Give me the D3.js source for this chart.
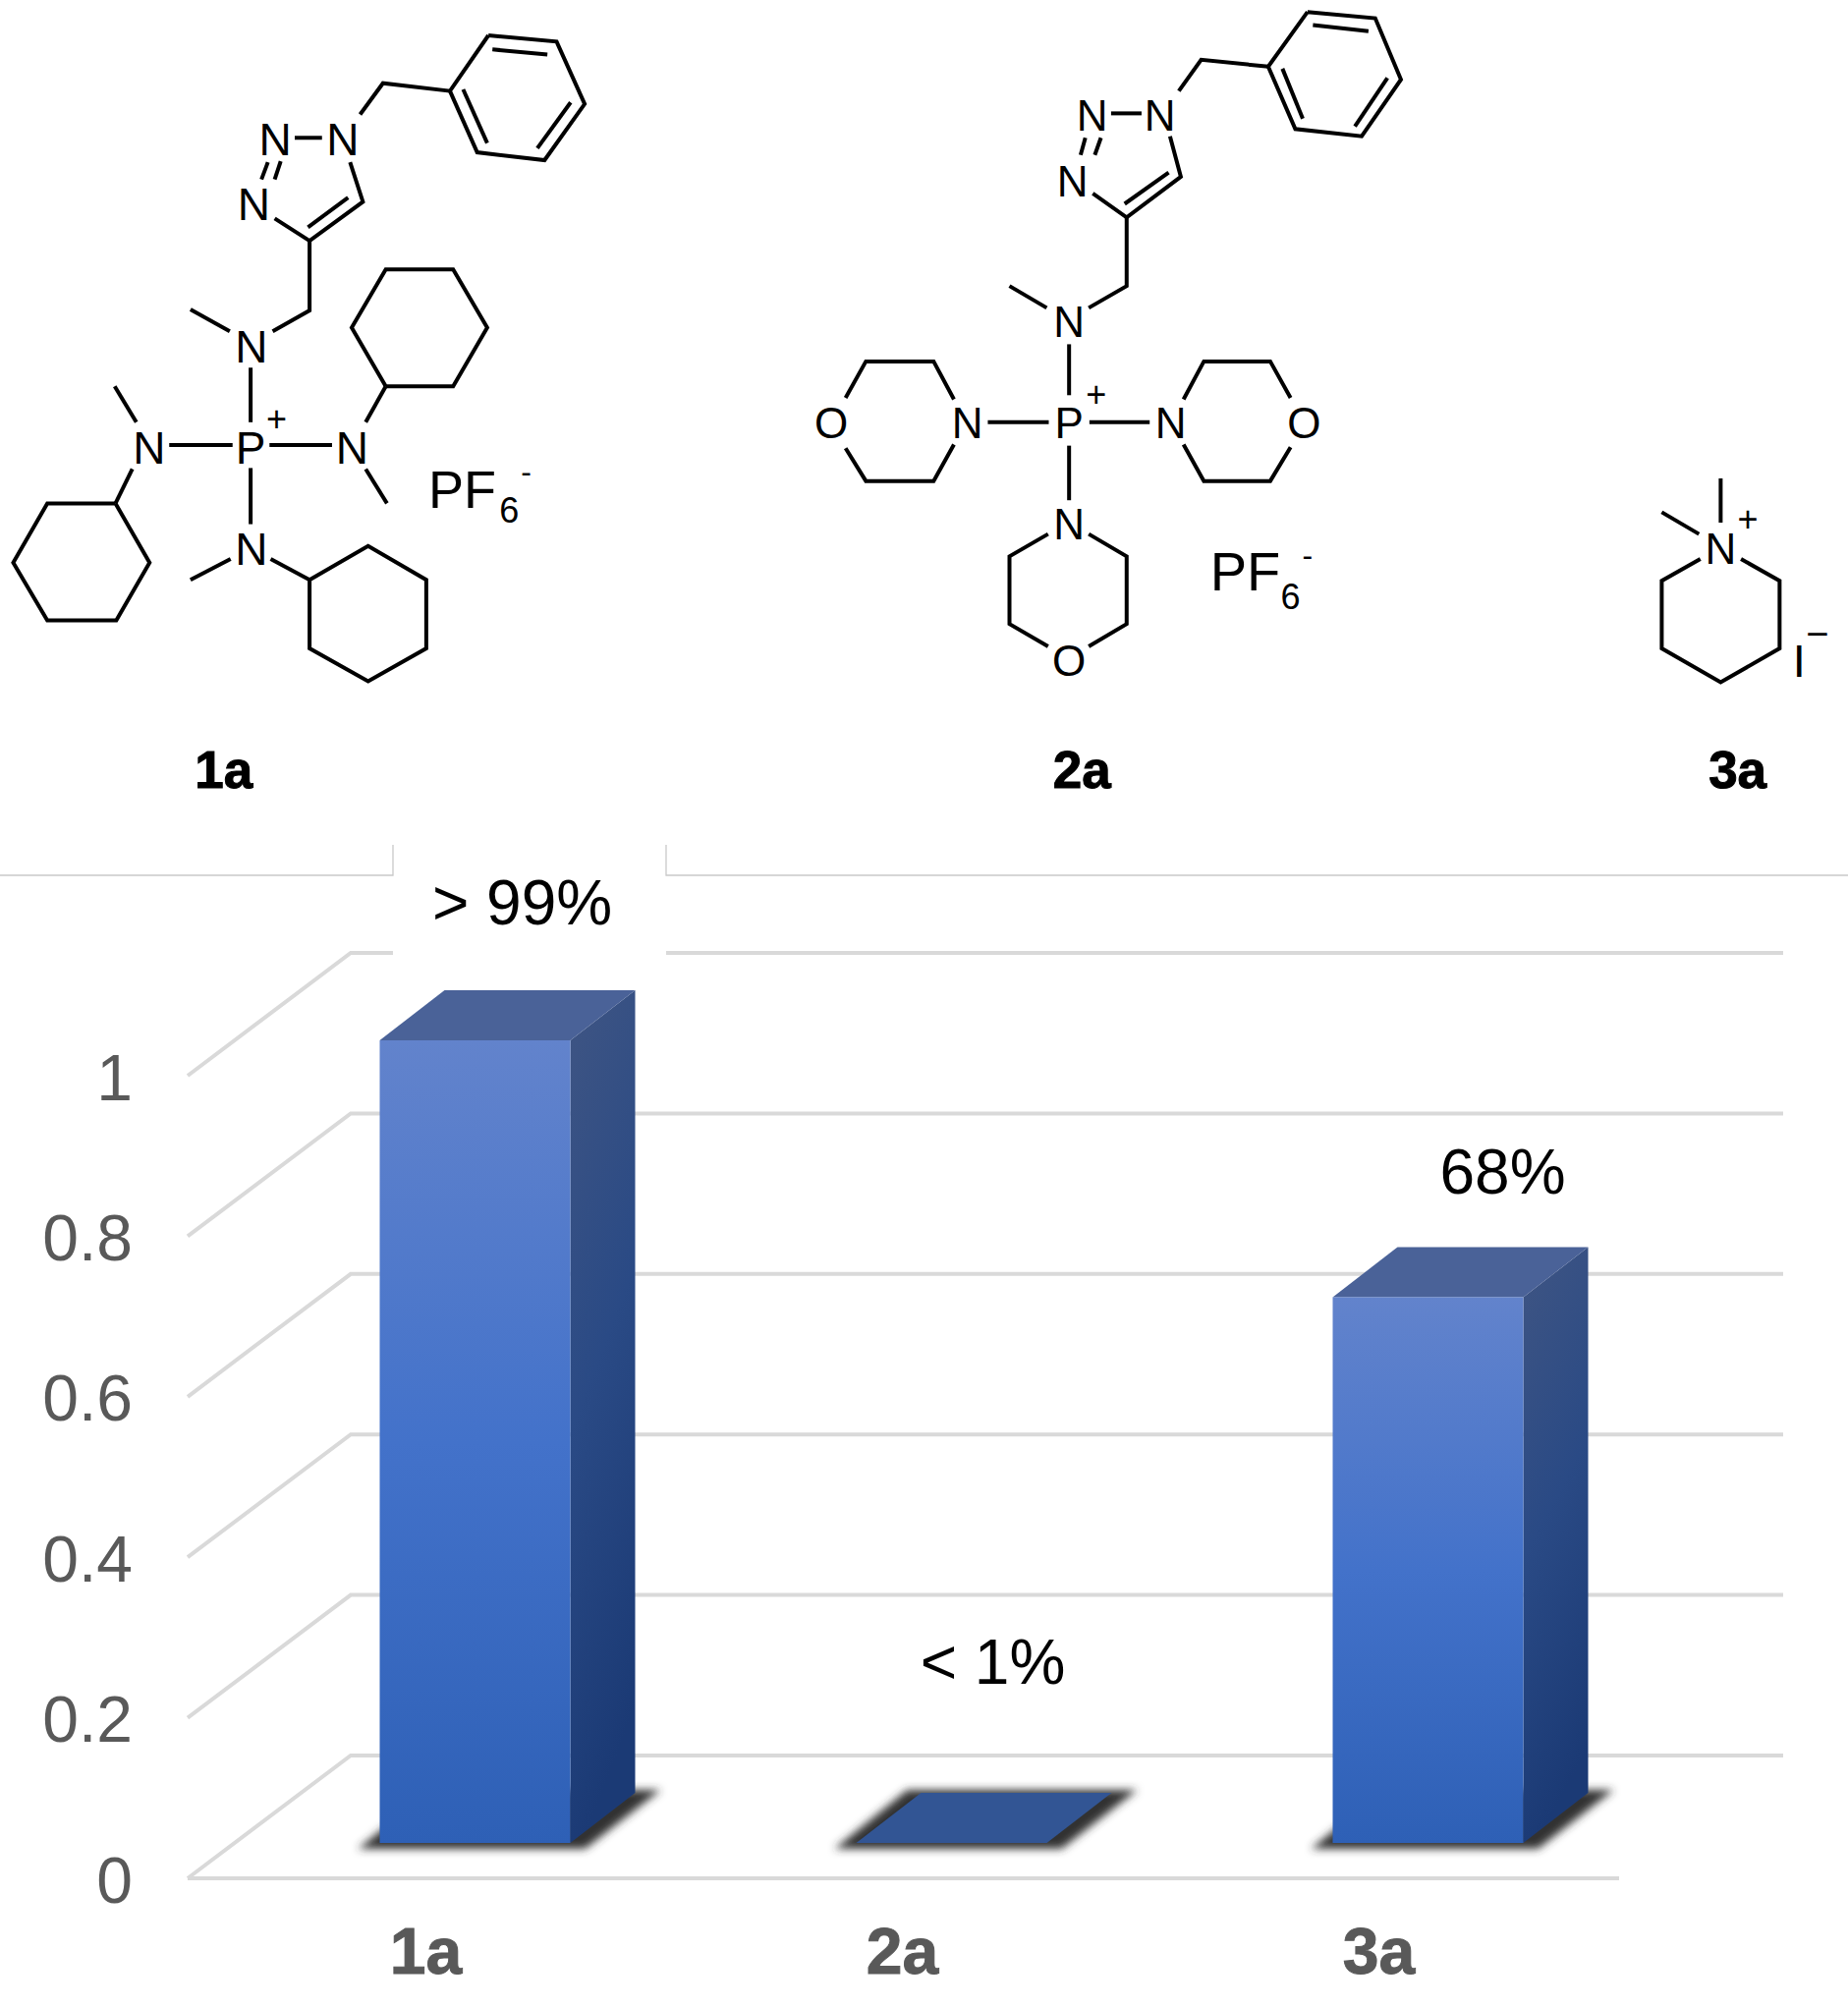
<!DOCTYPE html>
<html lang="en">
<head>
<meta charset="UTF-8">
<title>Catalyst activity 1a 2a 3a</title>
<script src="https://cdnjs.cloudflare.com/ajax/libs/d3/7.8.5/d3.min.js"></script>
<style>
  html, body { margin: 0; background: #fff; }
  svg { display: block; font-family: "Liberation Sans", Arial, sans-serif; }
</style>
</head>
<body>
<div id="chart"></div>
<script>
// chart values
var categories = ["1a", "2a", "3a"];
var values = [1.0, 0.0, 0.68];
var barLabels = ["> 99%", "< 1%", "68%"];
var yTicks = [0, 0.2, 0.4, 0.6, 0.8, 1];

var mol1Bonds = [
  [[1218,68],[1388,80],[1458,200],[1358,308],[1190,293],[1122,175],[1218,68]],
  [[1228,95],[1365,105]], [[1423,197],[1340,285]], [[1215,275],[1155,172]],
  [[898,220],[955,160],[1122,175]],
  [[735,265],[803,265]],
  [[668,312],[652,345]], [[700,310],[685,345]],
  [[873,312],[905,388],[772,463],[685,420]],
  [[868,380],[768,437]],
  [[772,463],[772,597],[680,637]],
  [[475,595],[573,637]],
  [[625,707],[625,812]],
  [[422,856],[580,856]], [[672,856],[828,856]], [[625,900],[625,1008]],
  [[286,743],[340,812]], [[330,902],[288,968]],
  [[288,968],[118,968],[33,1082],[118,1193],[290,1193],[373,1082],[288,968]],
  [[912,812],[962,743]], [[912,902],[965,968]],
  [[962,743],[1130,743],[1215,630],[1130,518],[962,518],[877,630],[962,743]],
  [[475,1115],[575,1075]], [[675,1075],[772,1115]],
  [[772,1115],[918,1050],[1063,1115],[1063,1247],[918,1310],[772,1247],[772,1115]]
];
var mol1Labels = [
  ["N",686,268,46], ["N",855,268,46], ["N",633,392,46], ["N",627,666,46],
  ["N",372,860,46], ["P",625,860,46], ["N",878,860,46], ["N",627,1055,46],
  ["+",690,804,36], ["PF",1153,940,54], ["6",1270,980,36], ["-",1312,905,32]
];
var mol2Bonds = [
  [[770,23],[870,35],[908,153],[850,262],[752,248],[712,128],[770,23]],
  [[778,48],[860,60]], [[888,150],[840,243]], [[763,228],[733,132]],
  [[580,175],[613,115],[712,128]],
  [[480,218],[525,218]],
  [[442,265],[435,298]], [[465,265],[456,298]],
  [[567,262],[583,340],[503,418],[453,372]],
  [[565,332],[500,392]],
  [[503,418],[503,550],[447,592]],
  [[330,550],[385,592]],
  [[418,662],[418,760]],
  [[298,812],[388,812]], [[448,812],[537,812]], [[418,857],[418,962]],
  [[248,768],[218,695],[118,695],[88,765]], [[88,862],[118,925],[218,925],[248,855]],
  [[587,768],[617,695],[715,695],[745,765]], [[745,860],[715,925],[617,925],[587,855]],
  [[387,1027],[330,1070],[330,1200],[387,1243]], [[447,1027],[503,1070],[503,1200],[447,1243]],
  // 3a
  [[1380,920],[1380,1005]], [[1293,985],[1348,1027]],
  [[1350,1075],[1293,1117],[1293,1247],[1380,1312],[1467,1247],[1467,1117],[1410,1075]]
];
var mol2Labels = [
  ["N",452,222,44], ["N",552,222,44], ["N",423,347,44], ["N",418,618,44],
  ["P",418,812,44], ["N",268,813,44], ["O",67,813,44], ["N",568,813,44],
  ["O",765,813,44], ["N",418,1008,44], ["O",418,1270,44],
  ["+",458,758,36], ["PF",678,1097,56], ["6",745,1146,36], ["-",770,1066,32],
  ["N",1380,1055,44], ["+",1420,998,36], ["I",1496,1270,47], ["\u2212",1523,1218,40]
];

var width = 1881, height = 2043;

var svg = d3.select("#chart").append("svg")
  .attr("width", width)
  .attr("height", height)
  .attr("viewBox", "0 0 " + width + " " + height);

var defs = svg.append("defs");

function gradient(id, x2, y2, stops) {
  var g = defs.append("linearGradient").attr("id", id)
    .attr("x1", 0).attr("y1", 0).attr("x2", x2).attr("y2", y2);
  stops.forEach(function (s) {
    g.append("stop").attr("offset", s[0]).attr("stop-color", s[1]);
  });
}
gradient("front", 0, 1, [[0, "#6283cc"], [0.5, "#4372ca"], [1, "#2e60b6"]]);
gradient("side", 0.2, 1, [[0, "#3f5583"], [0.5, "#2a4a85"], [1, "#1b3a75"]]);

defs.append("filter").attr("id", "soft")
  .attr("x", "-20%").attr("y", "-40%").attr("width", "140%").attr("height", "180%")
  .append("feGaussianBlur").attr("stdDeviation", 4);

// scales
var yFront = d3.scaleLinear().domain([0, 1]).range([1912, 1095]);
var xFront = d3.scaleBand().domain(categories).range([191, 1646])
  .paddingInner(0.6).paddingOuter(0.3);

// depth of the fake 3d box
var backX = 166, backY = 125;   // floor, front edge to back edge
var barX = 50, barY = 36;       // where bars stand on the floor
var depthX = 66, depthY = 51;   // bar depth

var line = d3.line();

// gridlines
svg.append("g").selectAll("path")
  .data(yTicks)
  .enter().append("path")
  .attr("fill", "none")
  .attr("stroke", "#d9d9d9")
  .attr("stroke-width", 4)
  .attr("d", function (d) {
    return line([
      [xFront.range()[0], yFront(d)],
      [xFront.range()[0] + backX, yFront(d) - backY],
      [xFront.range()[1] + backX + 3, yFront(d) - backY]
    ]);
  });

svg.append("path")
  .attr("fill", "none")
  .attr("stroke", "#d9d9d9")
  .attr("stroke-width", 4)
  .attr("d", line([[xFront.range()[0], yFront(0)], [xFront.range()[1] + 2, yFront(0)]]));

// pasted label box that cuts the frame line and the top gridline
svg.append("rect").attr("x", 400).attr("y", 860).attr("width", 278).attr("height", 120).attr("fill", "#fff");
svg.append("path")
  .attr("fill", "none")
  .attr("stroke", "#c9c9c9")
  .attr("stroke-width", 1.3)
  .attr("d", line([[0, 891], [400, 891], [400, 860]]));
svg.append("path")
  .attr("fill", "none")
  .attr("stroke", "#c9c9c9")
  .attr("stroke-width", 1.3)
  .attr("d", line([[678, 860], [678, 891], [1881, 891]]));

// bars
var bars = svg.append("g").selectAll("g")
  .data(categories)
  .enter().append("g");

function barLeft(c) { return xFront(c) + barX; }
function barRight(c) { return barLeft(c) + xFront.bandwidth(); }
function barBase() { return yFront(0) - barY; }
function barTop(i) { return yFront(values[i]) - barY; }

bars.append("path")
  .attr("fill", "#333")
  .attr("filter", "url(#soft)")
  .attr("d", function (c) {
    return line([
      [barLeft(c) - 22, barBase() + 6],
      [barRight(c) + 15, barBase() + 6],
      [barRight(c) + depthX + 26, barBase() - depthY - 3],
      [barLeft(c) + depthX - 14, barBase() - depthY - 3]
    ]) + "Z";
  });

// side face
bars.filter(function (c, i) { return values[i] > 0; }).append("path")
  .attr("fill", "url(#side)")
  .attr("d", function (c) {
    var i = categories.indexOf(c);
    return line([
      [barRight(c), barTop(i)],
      [barRight(c) + depthX, barTop(i) - depthY],
      [barRight(c) + depthX, barBase() - depthY],
      [barRight(c), barBase()]
    ]) + "Z";
  });

// top face
bars.append("path")
  .attr("fill", function (c, i) { return values[i] > 0 ? "#4a6298" : "#325594"; })
  .attr("d", function (c, i) {
    return line([
      [barLeft(c), barTop(i)],
      [barRight(c), barTop(i)],
      [barRight(c) + depthX, barTop(i) - depthY],
      [barLeft(c) + depthX, barTop(i) - depthY]
    ]) + "Z";
  });

// front face
bars.filter(function (c, i) { return values[i] > 0; }).append("rect")
  .attr("fill", "url(#front)")
  .attr("x", barLeft)
  .attr("y", function (c) { return barTop(categories.indexOf(c)); })
  .attr("width", xFront.bandwidth())
  .attr("height", function (c) { return barBase() - barTop(categories.indexOf(c)); });

// value labels, each sits by hand above its bar
var labelDx = [48, 42, 76];
var labelDy = [118, 162, 105];
bars.append("text")
  .attr("text-anchor", "middle")
  .attr("font-size", 64)
  .attr("fill", "#000")
  .attr("x", function (c, i) { return barLeft(c) + xFront.bandwidth() / 2 + labelDx[i]; })
  .attr("y", function (c, i) { return barTop(i) - labelDy[i]; })
  .text(function (c, i) { return barLabels[i]; });

// axes
var yAxis = svg.append("g")
  .attr("transform", "translate(135,3)")
  .call(d3.axisLeft(yFront).tickValues(yTicks).tickFormat(d3.format("~g")).tickSize(0).tickPadding(0));
yAxis.select(".domain").remove();
yAxis.selectAll("text")
  .attr("font-family", "Liberation Sans")
  .attr("font-size", 66)
  .attr("fill", "#595959");

var xAxis = svg.append("g")
  .attr("transform", "translate(0,1962)")
  .call(d3.axisBottom(xFront).tickSize(0).tickPadding(0));
xAxis.select(".domain").remove();
xAxis.selectAll("text")
  .attr("font-family", "Liberation Sans")
  .attr("font-weight", "bold")
  .attr("font-size", 66)
  .attr("stroke", "#595959")
  .attr("stroke-width", 1)
  .attr("fill", "#595959");

// structures above the chart
var panelY = d3.scaleLinear().domain([0, 1568]).range([0, 830]);
var panel1X = d3.scaleLinear().domain([0, 1568]).range([0, 640]);
var panel2X = d3.scaleLinear().domain([0, 1568]).range([800, 1881]);

function drawStructure(bonds, labels, px) {
  var g = svg.append("g");
  var bondLine = d3.line()
    .x(function (d) { return px(d[0]); })
    .y(function (d) { return panelY(d[1]); });
  g.selectAll("path")
    .data(bonds)
    .enter().append("path")
    .attr("fill", "none")
    .attr("stroke", "#000")
    .attr("stroke-width", 4)
    .attr("d", bondLine);
  g.selectAll("text")
    .data(labels)
    .enter().append("text")
    .attr("text-anchor", "middle")
    .attr("fill", "#000")
    .attr("font-size", function (d) { return d[3]; })
    .attr("x", function (d) { return px(d[1]); })
    .attr("y", function (d) { return panelY(d[2]) + d[3] * 0.36; })
    .text(function (d) { return d[0]; });
}
drawStructure(mol1Bonds, mol1Labels, panel1X);
drawStructure(mol2Bonds, mol2Labels, panel2X);

// compound names
var nameX = [panel1X(558), panel2X(437), panel2X(1405)];
svg.append("g").selectAll("text")
  .data(categories)
  .enter().append("text")
  .attr("text-anchor", "middle")
  .attr("font-weight", "bold")
  .attr("font-size", 53)
  .attr("stroke", "#000")
  .attr("stroke-width", 1)
  .attr("fill", "#000")
  .attr("x", function (d, i) { return nameX[i]; })
  .attr("y", 802)
  .text(function (d) { return d; });
</script>
</body>
</html>
